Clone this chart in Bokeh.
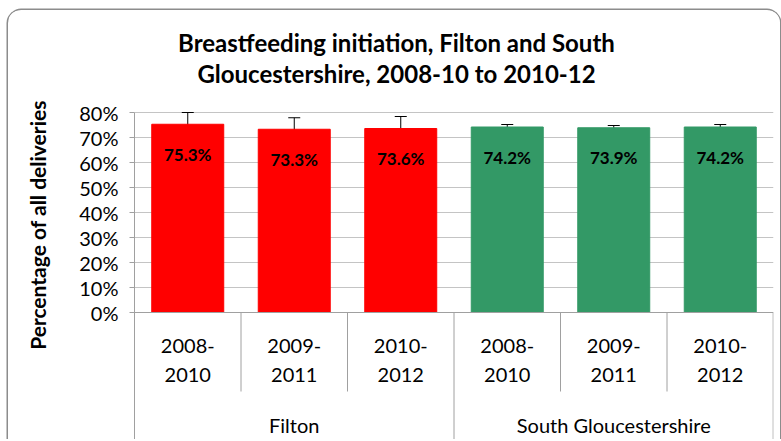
from bokeh.plotting import figure
from bokeh.models import (FactorRange, Range1d, FixedTicker, PrintfTickFormatter, Whisker,
                          ColumnDataSource, Span, TeeHead, LinearAxis)
from bokeh.core.properties import value
from bokeh.embed import file_html
from bokeh.resources import INLINE

# ---- data ----
groups = ["Filton", "South Gloucestershire"]
periods = ["2008-2010", "2009-2011", "2010-2012"]
filton_values = [75.3, 73.3, 73.6]
filton_lower = [69.7, 67.6, 68.0]
filton_upper = [80.0, 77.9, 78.4]
sg_values = [74.2, 73.9, 74.2]
sg_lower = [73.2, 72.9, 73.2]
sg_upper = [75.2, 74.8, 75.2]
group_colors = ["#FF0000", "#339966"]
y_ticks = [0, 10, 20, 30, 40, 50, 60, 70, 80]

title_lines = ["Breastfeeding initiation, Filton and South",
               "Gloucestershire, 2008-10 to 2010-12"]
y_title = "Percentage of all deliveries"

FONT = "Lato"
AXIS_GREY = "#a0a0a0"

factors = [(g, p) for g in groups for p in periods]
vals = filton_values + sg_values
lows = filton_lower + sg_lower
ups = filton_upper + sg_upper
cols = [group_colors[0]] * 3 + [group_colors[1]] * 3
labels = ["%.1f%%" % v for v in vals]

src = ColumnDataSource(dict(x=factors, top=vals, lower=lows, upper=ups, color=cols, label=labels,
                            l1=[p.split("-")[0] + "-" for g, p in factors],
                            l2=[p.split("-")[1] for g, p in factors],
                            zero=[0] * len(factors)))

Y0, Y1 = -50.8, 120.8
p = figure(width=772, height=429, output_backend="svg", toolbar_location=None,
           x_range=FactorRange(*factors, factor_padding=0, group_padding=0, range_padding=0),
           y_range=Range1d(Y0, Y1), x_axis_location=None,
           min_border_left=126, min_border_top=0, min_border_bottom=0, min_border_right=7)
p.margin = (10, 0, 0, 8)
p.outline_line_color = None
p.xgrid.visible = False
p.ygrid.ticker = FixedTicker(ticks=y_ticks[1:])
p.ygrid.grid_line_color = "#c4c4c4"

ax = p.yaxis[0]
ax.ticker = FixedTicker(ticks=y_ticks)
ax.bounds = (Y0, max(y_ticks))
ax.formatter = PrintfTickFormatter(format="%d%%")
ax.axis_line_color = AXIS_GREY
ax.major_tick_line_color = AXIS_GREY
ax.major_tick_out = 5
ax.major_tick_in = 0
ax.minor_tick_line_color = None
ax.major_label_text_font = FONT
ax.major_label_text_font_size = "20px"
ax.major_label_text_color = "#000000"
ax.major_label_standoff = 11

# axis carrying only the vertical title
lab_ax = LinearAxis(ticker=FixedTicker(ticks=[]), axis_line_color=None, major_tick_line_color=None,
                    minor_tick_line_color=None, axis_label=y_title, axis_label_standoff=27,
                    axis_label_text_font=FONT, axis_label_text_font_style="bold",
                    axis_label_text_font_size="21px", axis_label_text_color="#000000")
p.add_layout(lab_ax, "left")

# bars
p.vbar(x="x", top="top", width=0.676, color="color", source=src)

# x axis line
p.add_layout(Span(location=0, dimension="width", line_color=AXIS_GREY, line_width=1))

# error bars
head = dict(size=12, line_color="black", line_width=1)
p.add_layout(Whisker(base="x", upper="upper", lower="lower", source=src, line_color="black",
                     upper_head=TeeHead(**head), lower_head=TeeHead(**head)))

# data labels
p.text(x="x", y="top", text="label", source=src, y_offset=30, text_align="center",
       text_baseline="middle", text_font=value(FONT), text_font_style="bold",
       text_font_size="17px", text_color="black")

# category labels
p.text(x="x", y="zero", text="l1", source=src, y_offset=33, text_align="center",
       text_baseline="middle", text_font=value(FONT), text_font_size="20px", text_color="black")
p.text(x="x", y="zero", text="l2", source=src, y_offset=62, text_align="center",
       text_baseline="middle", text_font=value(FONT), text_font_size="20px", text_color="black")
gsrc = ColumnDataSource(dict(x=groups, zero=[0, 0]))
p.text(x="x", y="zero", text="x", source=gsrc, y_offset=112, text_align="center",
       text_baseline="middle", text_font=value(FONT), text_font_size="20px", text_color="black")

# separators
inner_x = [(g, periods[i], 0.5) for g in groups for i in range(2)]
p.segment(x0=inner_x, x1=inner_x, y0=[0] * 4, y1=[-31.6] * 4, line_color=AXIS_GREY, line_width=1)
outer_x = [(groups[0], periods[2], 0.5), (groups[1], periods[2], 0.497)]
p.segment(x0=outer_x, x1=outer_x, y0=[0] * 2, y1=[Y0] * 2, line_color=AXIS_GREY, line_width=1)

# title (two centred lines above the plot area)
tx = (groups[0], periods[2], -0.04)
tsrc = ColumnDataSource(dict(x=[tx, tx], y=[80, 80], t=title_lines, off=[-70, -39]))
p.text(x="x", y="y", text="t", y_offset="off", source=tsrc, text_align="center",
       text_baseline="middle", text_font=value(FONT), text_font_style="bold",
       text_font_size="24px", text_color="black")

p.styles = {"border-radius": "13px 13px 0 0", "overflow": "hidden",
            "box-shadow": "-1.5px 0 0 #8c8c8c, 1.5px 0 0 #8c8c8c, 0 -1.5px 0 #8c8c8c"}

open("out.html", "w").write(file_html(p, INLINE))
